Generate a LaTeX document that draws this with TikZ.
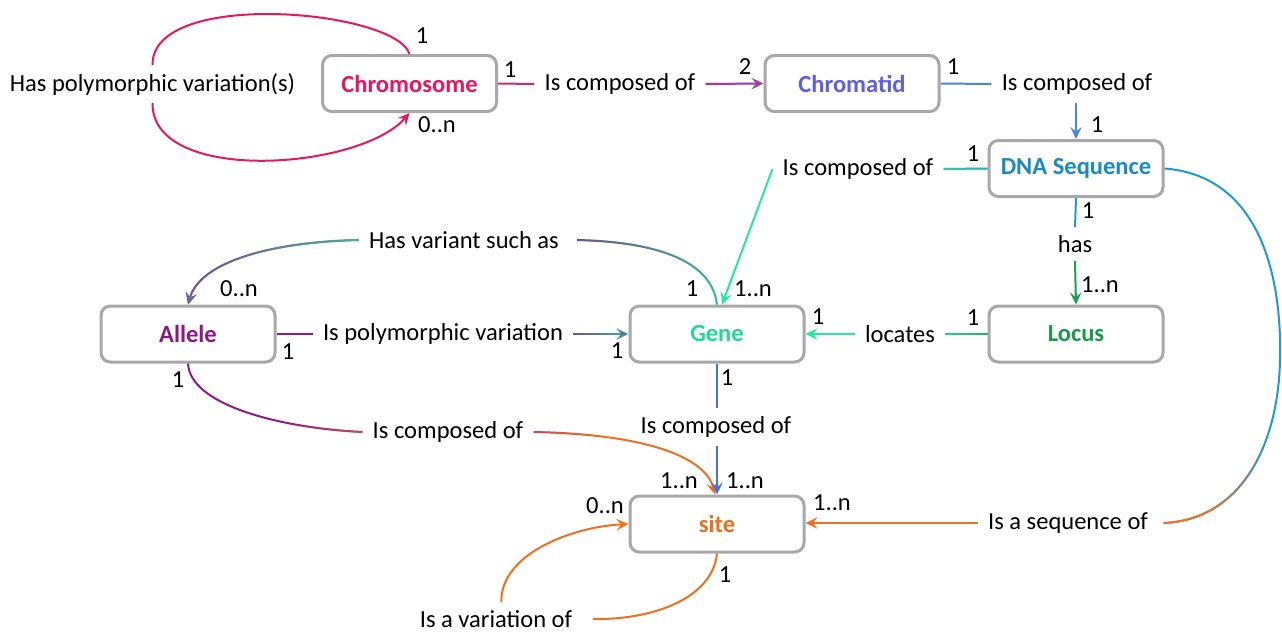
\documentclass[tikz,border=0pt]{standalone}
\usepackage{fontspec}
\setmainfont{Carlito}
\usetikzlibrary{arrows.meta,fadings,calc}
\definecolor{cpink}{HTML}{E8175D}
\definecolor{cviolet}{HTML}{6464E6}
\definecolor{ctchromatid}{HTML}{5F5FDD}
\definecolor{cblue}{HTML}{4A86E8}
\definecolor{ctdna}{HTML}{1A8AC0}
\definecolor{cdnaline}{HTML}{1E9AD6}
\definecolor{caqua}{HTML}{26E6A0}
\definecolor{ctgene}{HTML}{22D896}
\definecolor{cgreen}{HTML}{1AA050}
\definecolor{ctlocus}{HTML}{1A9A4A}
\definecolor{cpurple}{HTML}{8E1A8E}
\definecolor{ctallele}{HTML}{8A1888}
\definecolor{corange}{HTML}{F07020}
\definecolor{ctsite}{HTML}{E8701E}
\definecolor{cgeneblue}{HTML}{4A72D6}
\definecolor{boxgray}{HTML}{A8A8A8}
% fadings: white = opaque, black = transparent
\pgfdeclarehorizontalshading{shfL}{100bp}{color(0bp)=(white); color(100bp)=(black)}
\pgfdeclarefading{fL}{\pgfuseshading{shfL}}
\pgfdeclarehorizontalshading{shfR}{100bp}{color(0bp)=(black); color(100bp)=(white)}
\pgfdeclarefading{fR}{\pgfuseshading{shfR}}
\pgfdeclarehorizontalshading{shfRs}{100bp}{color(0bp)=(black); color(50bp)=(black); color(95bp)=(white); color(100bp)=(white)}
\pgfdeclarefading{fRs}{\pgfuseshading{shfRs}}
\pgfdeclarehorizontalshading{shfLe}{100bp}{color(0bp)=(white); color(45bp)=(black); color(100bp)=(black)}
\pgfdeclarefading{fLe}{\pgfuseshading{shfLe}}
\pgfdeclarehorizontalshading{shfRt}{100bp}{color(0bp)=(black); color(85bp)=(black); color(100bp)=(white)}
\pgfdeclarefading{fRt}{\pgfuseshading{shfRt}}
\pgfdeclarehorizontalshading{shfLm}{100bp}{color(0bp)=(white); color(45bp)=(white); color(70bp)=(black); color(100bp)=(black)}
\pgfdeclarefading{fLm}{\pgfuseshading{shfLm}}
\newcommand\dfont{\fontsize{18.4pt}{22pt}\selectfont}
\tikzset{
  box/.style={draw=boxgray, line width=2.25pt, rounded corners=7pt, fill=white,
    minimum width=130.5pt, minimum height=42pt, inner sep=0pt, font=\dfont\bfseries},
  lbl/.style={inner xsep=7.5pt, inner ysep=6pt, font=\dfont},
  num/.style={inner sep=0pt, font=\dfont},
  conn/.style={line width=1.5pt},
  arr/.style={-{Stealth[length=9pt,width=8.5pt,inset=3.5pt]}},
}
\begin{document}
\begin{tikzpicture}[x=0.75pt,y=-0.75pt]
\useasboundingbox (0,0) rectangle (1282,633);
% boxes
\node[box, text=cpink] (chrom) at (409.5,83.5) {Chromosome};
\node[box, text=ctchromatid] (chromatid) at (852,83.5) {Chromatid};
\node[box, text=ctdna] (dna) at (1076,168.5) {DNA Sequence};
\node[box, text=ctallele] (allele) at (188,334) {Allele};
\node[box, text=ctgene] (gene) at (717,334) {Gene};
\node[box, text=ctlocus] (locus) at (1076,334) {Locus};
\node[box, text=ctsite] (site) at (717,524) {site};
% relation labels
\node[lbl] (L1) at (152.5,84) {Has polymorphic variation(s)};
\node[lbl] (L2) at (620,84) {Is composed of};
\node[lbl] (L3) at (1077,84) {Is composed of};
\node[lbl] (L4) at (858,169) {Is composed of};
\node[lbl] (L5) at (1075,244) {has};
\node[lbl] (L6) at (900,334) {locates};
\node[lbl] (L7) at (464,240) {Has variant such as};
\node[lbl] (L8) at (443,334) {Is polymorphic variation};
\node[lbl] (L9) at (448,432) {Is composed of};
\node[lbl] (L10) at (716,427) {Is composed of};
\node[lbl] (L11) at (1068,523) {Is a sequence of};
\node[lbl] (L12) at (496,619) {Is a variation of};
% multiplicities
\node[num] (n1) at (422,36) {1};
\node[num] (n2) at (437,125) {0..n};
\node[num] (n3) at (510,70) {1};
\node[num] (n4) at (745,67) {2};
\node[num] (n5) at (953,67) {1};
\node[num] (n6) at (1097,125) {1};
\node[num] (n7) at (973,154) {1};
\node[num] (n8) at (1088,211) {1};
\node[num] (n9) at (1100,285) {1..n};
\node[num] (n10) at (973,318) {1};
\node[num] (n11) at (818,317) {1};
\node[num] (n12) at (692,289) {1};
\node[num] (n13) at (753,289) {1..n};
\node[num] (n14) at (239,289) {0..n};
\node[num] (n15) at (288,352) {1};
\node[num] (n16) at (617,351) {1};
\node[num] (n17) at (178,380) {1};
\node[num] (n18) at (679,481) {1..n};
\node[num] (n19) at (727,378) {1};
\node[num] (n20) at (745,481) {1..n};
\node[num] (n21) at (832,503) {1..n};
\node[num] (n22) at (605,506) {0..n};
\node[num] (n23) at (725,575) {1};
% 1 chromosome self loop
\draw[conn,cpink] (chrom.north) .. controls (396,10) and (152,-12) .. (L1.north);
\draw[conn,cpink,arr] (L1.south) .. controls (152,185) and (360,170) .. (chrom.south);
% 2 chromosome -> chromatid
\draw[conn,cpink!75!cviolet] (chrom.east) -- (L2.west);
\draw[conn,cviolet,arr] (L2.east) -- (chromatid.west);
\draw[conn,cpink,arr,path fading=fL] ($(L2.east)+(0,8)$) ($(L2.east)+(0,-8)$) (L2.east) -- (chromatid.west);
% 3 chromatid -> DNA
\draw[conn,cblue] (chromatid.east) -- (L3.west);
\draw[conn,cblue,arr] (L3.south -| dna.north) -- (dna.north);
% 4 DNA -> gene
\draw[conn,cdnaline] (dna.west) -- (L4.east);
\draw[conn,caqua,path fading=fL] ($(L4.east)+(0,8)$) ($(L4.east)+(0,-8)$) (dna.west) -- (L4.east);
\draw[conn,caqua,arr] (L4.west) -- ([xshift=3.75pt]gene.north);
% 5 DNA -> locus
\draw[conn,cdnaline] (dna.south) -- (L5.north);
\draw[conn,cgreen,arr] (L5.south) -- (locus.north);
% 6 locus -> gene
\draw[conn,cgreen] (locus.west) -- (L6.east);
\draw[conn,caqua,path fading=fL] ($(L6.east)+(0,8)$) ($(L6.east)+(0,-8)$) (locus.west) -- (L6.east);
\draw[conn,caqua,arr] (L6.west) -- (gene.east);
% 7 gene -> allele (has variant such as)
\draw[conn,caqua] (gene.north) .. controls (712,262) and (660,242) .. ([xshift=6pt]L7.east);
\draw[conn,cpurple,path fading=fL] (gene.north) .. controls (712,262) and (660,242) .. ([xshift=6pt]L7.east);
\draw[conn,cpurple,arr] (L7.west) .. controls (270,242) and (200,262) .. (allele.north);
\draw[conn,caqua,arr,path fading=fR] (L7.west) .. controls (270,242) and (200,262) .. (allele.north);
% 8 allele -> gene
\draw[conn,cpurple] (allele.east) -- (L8.west);
\draw[conn,caqua,arr] (L8.east) -- (gene.west);
\draw[conn,cpurple,arr,path fading=fL] ($(L8.east)+(0,8)$) ($(L8.east)+(0,-8)$) (L8.east) -- (gene.west);
% 9 allele -> site
\draw[conn,cpurple] (allele.south) .. controls (190,405) and (280,428) .. (L9.west);
\draw[conn,corange,path fading=fRs] (allele.south) .. controls (190,405) and (280,428) .. (L9.west);
\draw[conn,corange,arr] (L9.east) .. controls (640,434) and (705,455) .. ([xshift=-1.5pt]site.north);
\draw[conn,cpurple,arr,path fading=fLe] (L9.east) .. controls (640,434) and (705,455) .. ([xshift=-1.5pt]site.north);
% 10 gene -> site
\draw[conn,cgeneblue] (gene.south) -- (L10.north -| gene.south);
\draw[conn,cgeneblue,arr] (L10.south -| site.north) -- (site.north);
% 11 DNA -> site
\coordinate (bend) at (1280,360);
\draw[conn,cdnaline] (dna.east) .. controls (1262,176) and (1282,280) .. (bend);
\draw[conn,cdnaline] (bend) .. controls (1278,450) and (1238,520) .. ([xshift=4pt]L11.east);
\draw[conn,corange,path fading=fLm] (bend) .. controls (1278,450) and (1238,520) .. ([xshift=4pt]L11.east);
\draw[conn,corange,arr] (L11.west) -- (L11.west -| site.east);
\draw[conn,cdnaline,arr,path fading=fRt] ($(L11.west)+(0,8)$) ($(L11.west)+(0,-8)$) (L11.west) -- (L11.west -| site.east);
% 12 site self loop
\draw[conn,corange] (site.south) .. controls (712,600) and (650,620) .. ([xshift=8pt]L12.east);
\draw[conn,corange,arr] ([xshift=4pt]L12.north) .. controls (500,555) and (570,527) .. (site.west);
\end{tikzpicture}
\end{document}
